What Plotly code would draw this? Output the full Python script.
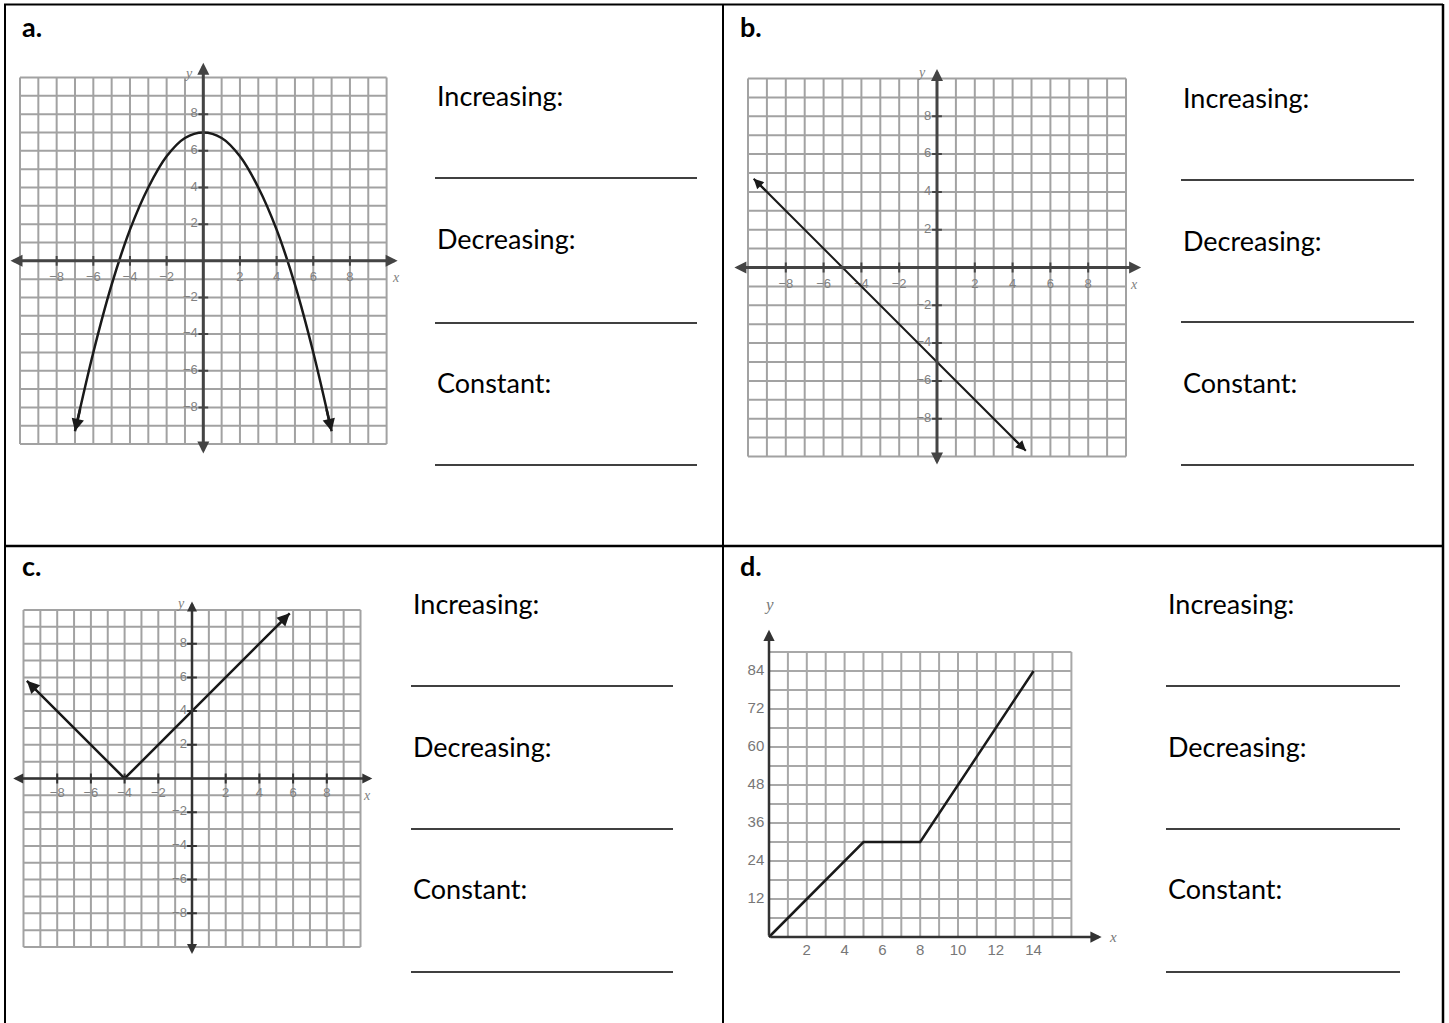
import plotly.graph_objects as go

W, H = 1449, 1023

# ---------------- data ----------------
grid_abc = list(range(-10, 11))
tick_abc = [-8, -6, -4, -2, 2, 4, 6, 8]

a_x = [-7, -6, -5, -4, -3, -2, -1, 0, 1, 2, 3, 4, 5, 6, 7]
a_y = [-9.3, -5.0, -1.3, 1.7, 4.0, 5.7, 6.7, 7.0, 6.7, 5.7, 4.0, 1.7, -1.3, -5.0, -9.3]

b_x = [-9.7, 4.7]
b_y = [4.7, -9.7]

c_x = [-9.8, -4, 5.8]
c_y = [5.8, 0, 9.8]

d_x = [0, 5, 8, 14]
d_y = [0, 30, 30, 84]
d_grid_x = list(range(0, 17))
d_grid_y = list(range(0, 91, 6))
d_xticks = [2, 4, 6, 8, 10, 12, 14]
d_yticks = [12, 24, 36, 48, 60, 72, 84]

panel_labels = ["a.", "b.", "c.", "d."]
prompts = ["Increasing:", "Decreasing:", "Constant:"]


def minus(v):
    return ("\u2212" + str(abs(v))) if v < 0 else str(v)


# ---------------- layout helpers ----------------
def domain(ox, oy, sx, sy, xr, yr):
    xd = [(ox + xr[0] * sx) / W, (ox + xr[1] * sx) / W]
    yd = [1 - (oy - yr[0] * sy) / H, 1 - (oy - yr[1] * sy) / H]
    return xd, yd


specs = {
    # name: (origin px x, origin px y, sx, sy, xrange, yrange)
    "1": (203.3, 260.8, 18.33, 18.33, [-10.9, 10.9], [-10.9, 10.9]),
    "2": (937.0, 267.5, 18.9, 18.9, [-10.9, 10.9], [-10.9, 10.9]),
    "3": (192.0, 778.5, 16.85, 16.85, [-10.9, 10.9], [-10.9, 10.9]),
    "4": (769.0, 937.0, 18.9, 3.167, [-2.4, 18.6], [-8, 108]),
}

fig = go.Figure()
annotations = []
shapes = []
layout_axes = {}

for k, (ox, oy, sx, sy, xr, yr) in specs.items():
    xd, yd = domain(ox, oy, sx, sy, xr, yr)
    xn = "xaxis" if k == "1" else "xaxis" + k
    yn = "yaxis" if k == "1" else "yaxis" + k
    xa = "x" if k == "1" else "x" + k
    ya = "y" if k == "1" else "y" + k
    layout_axes[xn] = dict(domain=xd, range=xr, visible=False, fixedrange=True, anchor=ya)
    layout_axes[yn] = dict(domain=yd, range=yr, visible=False, fixedrange=True, anchor=xa)


def ax_ids(k):
    return ("x", "y") if k == "1" else ("x" + k, "y" + k)


def grid_trace(xs, ys, k, color="#a2a2a2", width=2):
    xa, ya = ax_ids(k)
    gx, gy = [], []
    for v in xs:
        gx += [v, v, None]
        gy += [ys[0], ys[-1], None]
    for v in ys:
        gx += [xs[0], xs[-1], None]
        gy += [v, v, None]
    return go.Scatter(x=gx, y=gy, mode="lines", line=dict(color=color, width=width),
                      xaxis=xa, yaxis=ya, hoverinfo="skip", showlegend=False)


def arrow(k, tip, tail, width, color="#222", size=1.0, head=2, both=False):
    xa, ya = ax_ids(k)
    annotations.append(dict(
        x=tip[0], y=tip[1], ax=tail[0], ay=tail[1], xref=xa, yref=ya, axref=xa, ayref=ya,
        text="", showarrow=True, arrowhead=head, startarrowhead=head, arrowsize=size,
        startarrowsize=size, arrowwidth=width, arrowcolor=color,
        arrowside="end+start" if both else "end", standoff=0, startstandoff=0))


def head_at(k, xs, ys, idx_tip, idx_next, width, color="#1a1a1a", size=1.0, frac=0.3):
    tip = (xs[idx_tip], ys[idx_tip])
    nxt = (xs[idx_next], ys[idx_next])
    tail = (tip[0] + frac * (nxt[0] - tip[0]), tip[1] + frac * (nxt[1] - tip[1]))
    arrow(k, tip, tail, width, color, size)


LBL = dict(family="Liberation Sans", size=13, color="#808080")


def coord_plane(k, ext_x, ext_y, axis_color, axis_w, ylab_pos, xlab_pos):
    xa, ya = ax_ids(k)
    fig.add_trace(grid_trace(grid_abc, grid_abc, k))
    # axes with arrows at both ends
    arrow(k, (ext_x[1], 0), (ext_x[0], 0), axis_w, axis_color, 0.8, both=True)
    arrow(k, (0, ext_y[1]), (0, ext_y[0]), axis_w, axis_color, 0.8, both=True)
    # tick marks
    fig.add_trace(go.Scatter(x=tick_abc, y=[0] * len(tick_abc), mode="markers",
                             marker=dict(symbol="line-ns", size=7, line=dict(color=axis_color, width=2)),
                             xaxis=xa, yaxis=ya, hoverinfo="skip", showlegend=False))
    fig.add_trace(go.Scatter(x=[0] * len(tick_abc), y=tick_abc, mode="markers",
                             marker=dict(symbol="line-ew", size=7, line=dict(color=axis_color, width=2)),
                             xaxis=xa, yaxis=ya, hoverinfo="skip", showlegend=False))
    # tick labels
    fig.add_trace(go.Scatter(x=tick_abc, y=[-0.9] * len(tick_abc), mode="text",
                             text=[minus(v) for v in tick_abc], textposition="middle center",
                             textfont=LBL,
                             xaxis=xa, yaxis=ya, hoverinfo="skip", showlegend=False, cliponaxis=False))
    fig.add_trace(go.Scatter(x=[-0.3] * len(tick_abc), y=tick_abc, mode="text",
                             text=[minus(v) for v in tick_abc], textposition="middle left",
                             textfont=LBL,
                             xaxis=xa, yaxis=ya, hoverinfo="skip", showlegend=False, cliponaxis=False))
    annotations.append(dict(x=ylab_pos[0], y=ylab_pos[1], xref=xa, yref=ya, text="<i>y</i>",
                            showarrow=False, font=dict(family="Liberation Serif", size=14, color="#808080")))
    annotations.append(dict(x=xlab_pos[0], y=xlab_pos[1], xref=xa, yref=ya, text="<i>x</i>",
                            showarrow=False, font=dict(family="Liberation Serif", size=14, color="#808080")))


# ---------------- graph a ----------------
coord_plane("1", (-10.6, 10.6), (-10.6, 10.8), "#444", 3, (-0.8, 10.2), (10.5, -0.9))
fig.add_trace(go.Scatter(x=a_x, y=a_y, mode="lines", line=dict(color="#1a1a1a", width=2.5, shape="spline", smoothing=1.0),
                         xaxis="x", yaxis="y", hoverinfo="skip", showlegend=False))
head_at("1", a_x, a_y, 0, 1, 2.5)
head_at("1", a_x, a_y, len(a_x) - 1, len(a_x) - 2, 2.5)

# ---------------- graph b ----------------
coord_plane("2", (-10.8, 10.8), (-10.5, 10.5), "#444", 3, (-0.8, 10.3), (10.4, -0.9))
fig.add_trace(go.Scatter(x=b_x, y=b_y, mode="lines", line=dict(color="#1a1a1a", width=2),
                         xaxis="x2", yaxis="y2", hoverinfo="skip", showlegend=False))
head_at("2", b_x, b_y, 0, 1, 2, frac=0.05)
head_at("2", b_x, b_y, 1, 0, 2, frac=0.05)

# ---------------- graph c ----------------
coord_plane("3", (-10.7, 10.7), (-10.5, 10.5), "#333", 2.5, (-0.7, 10.4), (10.4, -1.0))
fig.add_trace(go.Scatter(x=c_x, y=c_y, mode="lines", line=dict(color="#1a1a1a", width=2.5),
                         xaxis="x3", yaxis="y3", hoverinfo="skip", showlegend=False))
head_at("3", c_x, c_y, 0, 1, 2.5, frac=0.08)
head_at("3", c_x, c_y, 2, 1, 2.5, frac=0.08)

# ---------------- graph d ----------------
fig.add_trace(grid_trace(d_grid_x, d_grid_y, "4", color="#a8a8a8", width=2))
arrow("4", (17.6, 0), (0, 0), 2.5, "#333", 0.9)
arrow("4", (0, 97), (0, 0), 2.5, "#333", 0.9)
fig.add_trace(go.Scatter(x=d_x, y=d_y, mode="lines", line=dict(color="#1a1a1a", width=2.5),
                         xaxis="x4", yaxis="y4", hoverinfo="skip", showlegend=False))
fig.add_trace(go.Scatter(x=d_xticks, y=[-4.6] * len(d_xticks), mode="text",
                         text=[str(v) for v in d_xticks], textposition="middle center",
                         textfont=dict(family="Liberation Sans", size=15, color="#777"),
                         xaxis="x4", yaxis="y4", hoverinfo="skip", showlegend=False, cliponaxis=False))
fig.add_trace(go.Scatter(x=[-0.25] * len(d_yticks), y=d_yticks, mode="text",
                         text=[str(v) for v in d_yticks], textposition="middle left",
                         textfont=dict(family="Liberation Sans", size=15, color="#777"),
                         xaxis="x4", yaxis="y4", hoverinfo="skip", showlegend=False, cliponaxis=False))
annotations.append(dict(x=0, y=105, xref="x4", yref="y4", text="<i>y</i>", showarrow=False,
                        font=dict(family="Liberation Serif", size=17, color="#777")))
annotations.append(dict(x=18.2, y=0, xref="x4", yref="y4", text="<i>x</i>", showarrow=False,
                        font=dict(family="Liberation Serif", size=15, color="#777")))

# ---------------- worksheet text ----------------
def px(xp):
    return xp / W


def py(yp):
    return 1 - yp / H


label_pos = [(20, 27), (738, 27), (20, 565), (738, 565)]
for lab, (lx, ly) in zip(panel_labels, label_pos):
    annotations.append(dict(x=px(lx), y=py(ly), xref="paper", yref="paper", xanchor="left", yanchor="middle",
                            text="<b>" + lab + "</b>", showarrow=False,
                            font=dict(family="Lato", size=27, color="black")))

blocks = [
    (435, [95, 238, 382], [178, 323, 465], 697),
    (1181, [97, 240, 382], [180, 322, 465], 1414),
    (411, [603, 746, 888], [686, 829, 972], 673),
    (1166, [603, 746, 888], [686, 829, 972], 1400),
]
for left, ty, uy, right in blocks:
    for t, yy in zip(prompts, ty):
        annotations.append(dict(x=px(left), y=py(yy), xref="paper", yref="paper", xanchor="left",
                                yanchor="middle", text=t, showarrow=False,
                                font=dict(family="Lato", size=27, color="black")))
    for yy in uy:
        shapes.append(dict(type="line", xref="paper", yref="paper", x0=px(left), x1=px(right),
                           y0=py(yy), y1=py(yy), line=dict(color="black", width=1.5)))

# table borders
border = [
    ((4, 4.5), (1443, 4.5), 2),
    ((5, 4), (5, 1023), 2),
    ((1443, 4), (1443, 1023), 2.5),
    ((723, 4), (723, 1023), 2),
    ((5, 546), (1443, 546), 2.5),
]
for (x0, y0), (x1, y1), w in border:
    shapes.append(dict(type="line", xref="paper", yref="paper", x0=px(x0), x1=px(x1),
                       y0=py(y0), y1=py(y1), line=dict(color="black", width=w)))

fig.update_layout(
    width=W, height=H, margin=dict(l=0, r=0, t=0, b=0),
    paper_bgcolor="white", plot_bgcolor="rgba(0,0,0,0)",
    showlegend=False, annotations=annotations, shapes=shapes,
    **layout_axes,
)

fig.write_html("out.html", config={"displayModeBar": False},
               post_script="document.body.style.margin='0px';")
